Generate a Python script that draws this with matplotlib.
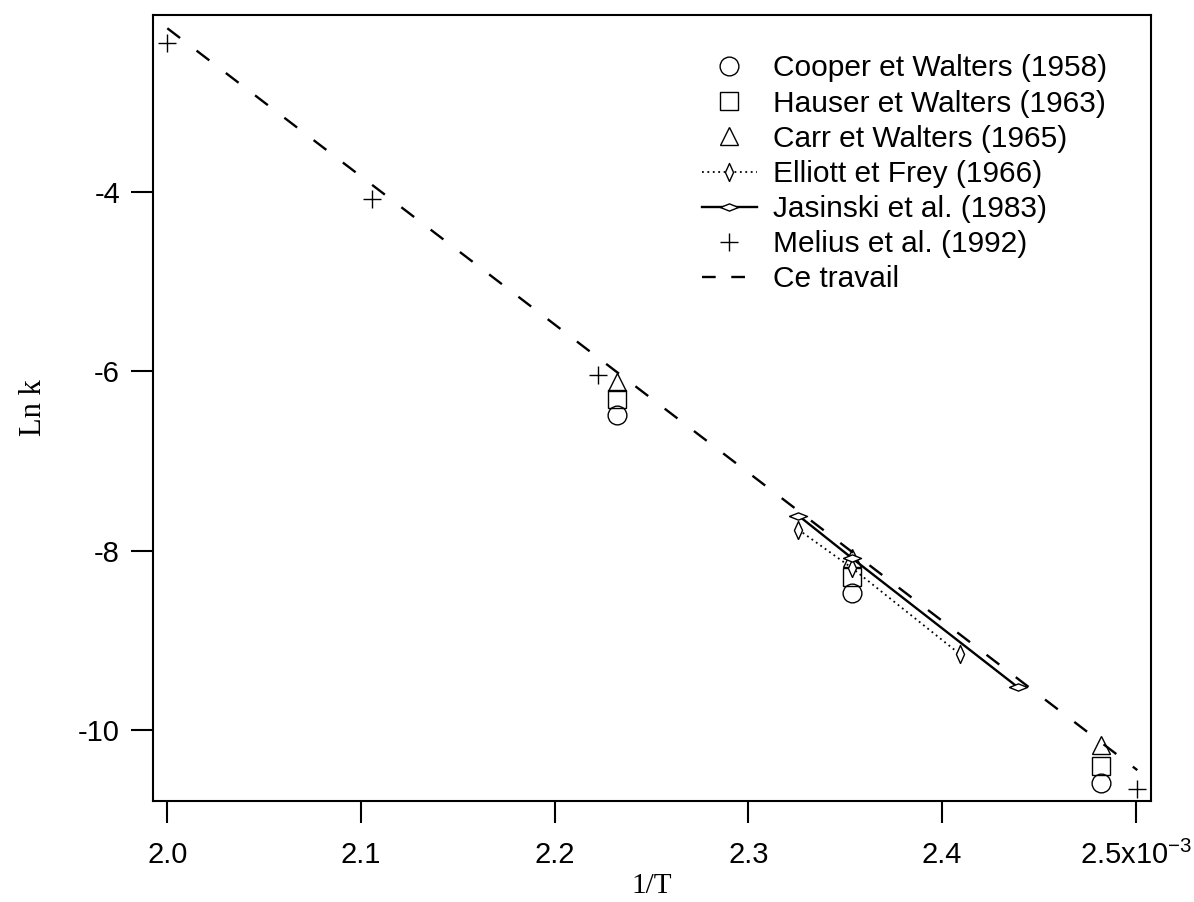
import numpy as np
import matplotlib
matplotlib.use("Agg")
import matplotlib.pyplot as plt
from matplotlib.lines import Line2D

# values (x = 1/T in units of 1e-3 K^-1, y = ln k)
cooper_x = [2.232, 2.3533, 2.4819]
cooper_y = [-6.49, -8.47, -10.585]

hauser_x = [2.232, 2.3533, 2.4819]
hauser_y = [-6.31, -8.29, -10.40]

carr_x = [2.232, 2.3533, 2.4819]
carr_y = [-6.12, -8.085, -10.17]

elliott_x = [2.3258, 2.3533, 2.409]
elliott_y = [-7.765, -8.19, -9.15]

jasinski_x = [2.3258, 2.3533, 2.439]
jasinski_y = [-7.608, -8.08, -9.52]

melius_x = [2.000, 2.1055, 2.2225, 2.5005]
melius_y = [-2.344, -4.085, -6.038, -10.652]

travail_x = [2.000, 2.5008]
travail_y = [-2.176, -10.446]

labels = ["Cooper et Walters (1958)", "Hauser et Walters (1963)",
          "Carr et Walters (1965)", "Elliott et Frey (1966)",
          "Jasinski et al. (1983)", "Melius et al. (1992)", "Ce travail"]

xticks = [2.0, 2.1, 2.2, 2.3, 2.4, 2.5]
xticklabels = ["2.0", "2.1", "2.2", "2.3", "2.4", r"2.5x10$\mathregular{^{-3}}$"]
yticks = [-4, -6, -8, -10]

plt.rcParams["font.family"] = ["Liberation Sans", "DejaVu Sans"]
plt.rcParams["axes.unicode_minus"] = False

fig = plt.figure(figsize=(11.94, 9.02), dpi=100)
ax = fig.add_axes([0.1284, 0.112, 0.8353, 0.8714])

# custom diamond markers (flat one and tall one)
hdiam = [(-1, 0), (0, 0.4), (1, 0), (0, -0.4), (-1, 0)]
vdiam = [(0, -1), (0.45, 0), (0, 1), (-0.45, 0), (0, -1)]

mk = dict(color="black", fillstyle="none", markeredgewidth=1.0, linestyle="none")
ax.plot(cooper_x, cooper_y, marker="o", markersize=13.5, label=labels[0], **mk)
ax.plot(hauser_x, hauser_y, marker="s", markersize=13, label=labels[1], **mk)
ax.plot(carr_x, carr_y, marker="^", markersize=13, label=labels[2], **mk)
ax.plot(elliott_x, elliott_y, color="black", linestyle=(0, (1, 2)), linewidth=1.3,
        marker=vdiam, markersize=13, markerfacecolor="white",
        markeredgewidth=1.0, label=labels[3])
ax.plot(jasinski_x, jasinski_y, color="black", linestyle="-", linewidth=1.7,
        marker=hdiam, markersize=13, markerfacecolor="white",
        markeredgewidth=1.0, label=labels[4])
ax.plot(melius_x, melius_y, marker="+", markersize=13, label=labels[5], **mk)
ax.plot(travail_x, travail_y, color="black", linewidth=1.7,
        dashes=(6.8, 8.8), label=labels[6])

ax.set_xlim(1.99277, 2.50769)
ax.set_ylim(-10.79, -2.028)
ax.set_xticks(xticks)
ax.set_xticklabels(xticklabels)
ax.set_yticks(yticks)

for s in ax.spines.values():
    s.set_linewidth(1.5)
ax.tick_params(direction="out", length=15.5, width=1.5, labelsize=21,
               top=False, right=False)
ax.tick_params(axis="x", pad=13)
ax.tick_params(axis="y", pad=8.4)

serif = ["Liberation Serif", "DejaVu Serif"]
ax.set_xlabel("1/T", family=serif, fontsize=21, va="center")
ax.xaxis.set_label_coords(0.5, -0.108)
ax.set_ylabel("Ln k", family=serif, fontsize=22, va="center")
ax.yaxis.set_label_coords(-0.120, 0.5)

handles, labs = ax.get_legend_handles_labels()
handles[-1] = Line2D([], [], color="black", linewidth=1.7, dashes=(5.8, 6.6))
ax.legend(handles, labs, frameon=False, loc="upper left",
          bbox_to_anchor=(0.5877, 0.9396), bbox_transform=fig.transFigure,
          borderpad=0, borderaxespad=0, handlelength=1.85, handletextpad=0.55,
          labelspacing=0.24, numpoints=1, fontsize=21.5)

fig.savefig("out.png", dpi=100)
